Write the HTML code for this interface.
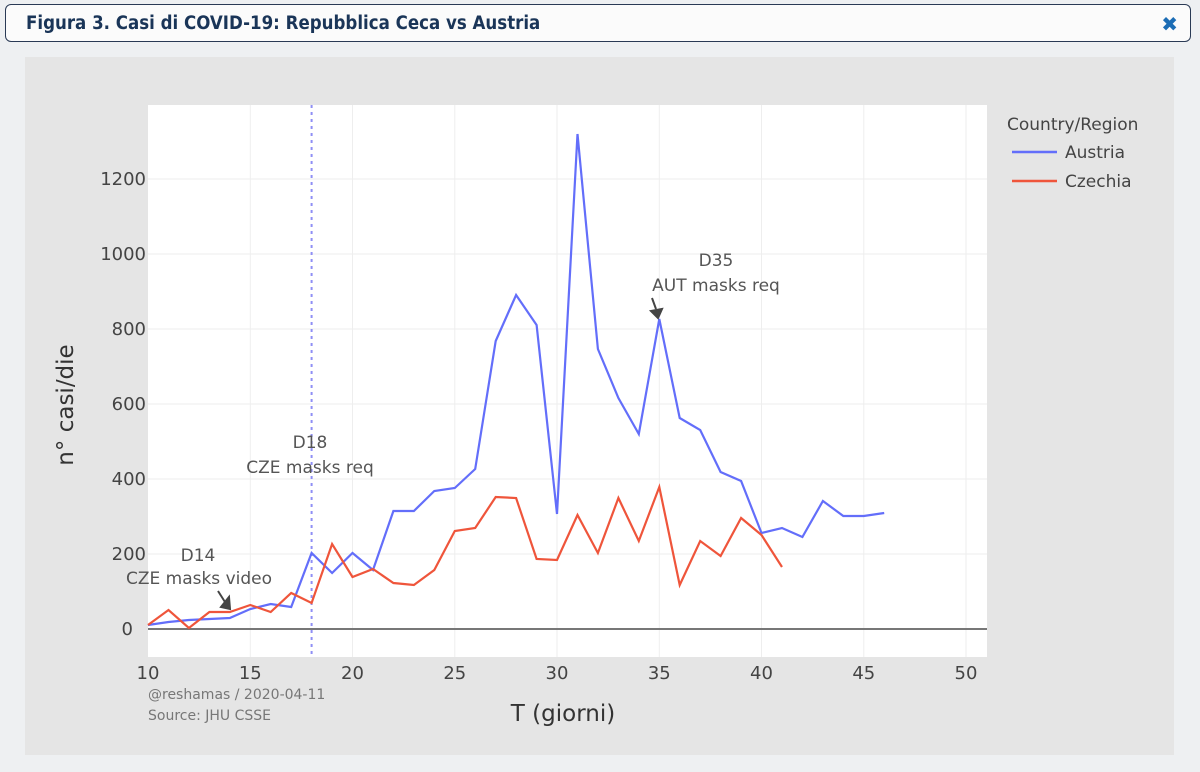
<!DOCTYPE html>
<html><head><meta charset="utf-8"><style>
body{margin:0;width:1200px;height:772px;background:#eef0f2;font-family:"DejaVu Sans",sans-serif;overflow:hidden;position:relative}
.hdr{position:absolute;left:5px;top:4px;width:1186px;height:38px;border:1px solid #2a3a55;border-radius:6px;background:#fbfbfb;box-sizing:border-box}
.hdr span{position:absolute;left:20px;top:8px;font-size:18.5px;font-weight:bold;color:#1a3558;font-family:"DejaVu Sans Condensed","DejaVu Sans",sans-serif}
.x{position:absolute;right:12px;top:7px;font-size:20px;color:#1c6db5;font-weight:bold}
</style></head><body>
<div class="hdr"><span>Figura 3. Casi di COVID-19: Repubblica Ceca vs Austria</span><div class="x">✖</div></div>
<svg width="1200" height="772" style="position:absolute;left:0;top:0" font-family="DejaVu Sans, sans-serif">
<rect x="25" y="57" width="1149" height="698" fill="#e5e5e5"/>
<rect x="148" y="105" width="839" height="552" fill="#fff"/>
<g stroke="#eeeeee" stroke-width="1">
<line x1="250.3" y1="105" x2="250.3" y2="657"/><line x1="352.5" y1="105" x2="352.5" y2="657"/><line x1="454.8" y1="105" x2="454.8" y2="657"/><line x1="557" y1="105" x2="557" y2="657"/><line x1="659.3" y1="105" x2="659.3" y2="657"/><line x1="761.5" y1="105" x2="761.5" y2="657"/><line x1="863.8" y1="105" x2="863.8" y2="657"/><line x1="966" y1="105" x2="966" y2="657"/>
<line x1="148" y1="554" x2="987" y2="554"/><line x1="148" y1="479" x2="987" y2="479"/><line x1="148" y1="404" x2="987" y2="404"/><line x1="148" y1="329" x2="987" y2="329"/><line x1="148" y1="254" x2="987" y2="254"/><line x1="148" y1="179" x2="987" y2="179"/>
</g>
<line x1="148" y1="629" x2="987" y2="629" stroke="#777" stroke-width="2"/>
<line x1="311.6" y1="105" x2="311.6" y2="657" stroke="#8f8ff5" stroke-width="2" stroke-dasharray="3,4"/>
<polyline fill="none" stroke="#636efa" stroke-width="2.2" points="148,625 168.5,622 188.9,620 209.4,619 229.8,618 250.3,609 270.7,604 291.2,607 311.6,553 332.1,573 352.5,553 373,570 393.4,511 413.9,511 434.3,491 454.8,488 475.2,469 495.7,341 516.1,295 536.6,325 557,514 577.5,134 597.9,349 618.4,398 638.8,434 659.3,319 679.7,418 700.2,430 720.6,472 741.1,481 761.5,533 782,528 802.4,537 822.9,501 843.3,516 863.8,516 884.2,513"/>
<polyline fill="none" stroke="#ef553b" stroke-width="2.2" points="148,625 168.5,610 188.9,628 209.4,612 229.8,612 250.3,605 270.7,612 291.2,593 311.6,603 332.1,544 352.5,577 373,569 393.4,583 413.9,585 434.3,570 454.8,531 475.2,528 495.7,497 516.1,498 536.6,559 557,560 577.5,515 597.9,553 618.4,498 638.8,541 659.3,487 679.7,585 700.2,541 720.6,556 741.1,518 761.5,535 782,567"/>
<g fill="#444" font-size="18" text-anchor="end">
<text x="133" y="635">0</text><text x="146" y="560">200</text><text x="146" y="485">400</text><text x="146" y="410">600</text><text x="146" y="335">800</text><text x="146" y="260">1000</text><text x="146" y="185">1200</text>
</g>
<g fill="#444" font-size="18" text-anchor="middle">
<text x="148" y="679">10</text><text x="250.3" y="679">15</text><text x="352.5" y="679">20</text><text x="454.8" y="679">25</text><text x="557" y="679">30</text><text x="659.3" y="679">35</text><text x="761.5" y="679">40</text><text x="863.8" y="679">45</text><text x="966" y="679">50</text>
</g>
<text x="563" y="721" font-size="23" fill="#333" text-anchor="middle">T (giorni)</text>
<text transform="translate(73,405) rotate(-90)" font-size="23" fill="#333" text-anchor="middle">n° casi/die</text>
<text x="148" y="699" font-size="14" fill="#777">@reshamas / 2020-04-11</text>
<text x="148" y="720" font-size="14" fill="#777">Source: JHU CSSE</text>
<g fill="#555" font-size="17" text-anchor="middle">
<text x="198" y="561">D14</text><text x="199" y="584">CZE masks video</text>
<text x="310" y="448">D18</text><text x="310" y="473">CZE masks req</text>
<text x="716" y="266">D35</text><text x="716" y="291">AUT masks req</text>
</g>
<g stroke="#444" stroke-width="2" fill="#444">
<line x1="218" y1="591" x2="225" y2="602"/><polygon points="221,607 229,597 230,609"/>
<line x1="652" y1="298" x2="656" y2="309"/><polygon points="651,311 662,309 658,318"/>
</g>
<text x="1007" y="130" font-size="17" fill="#444">Country/Region</text>
<line x1="1012" y1="152" x2="1057" y2="152" stroke="#636efa" stroke-width="2.5"/>
<text x="1065" y="158" font-size="17" fill="#444">Austria</text>
<line x1="1012" y1="181" x2="1057" y2="181" stroke="#ef553b" stroke-width="2.5"/>
<text x="1065" y="187" font-size="17" fill="#444">Czechia</text>
</svg>
</body></html>
